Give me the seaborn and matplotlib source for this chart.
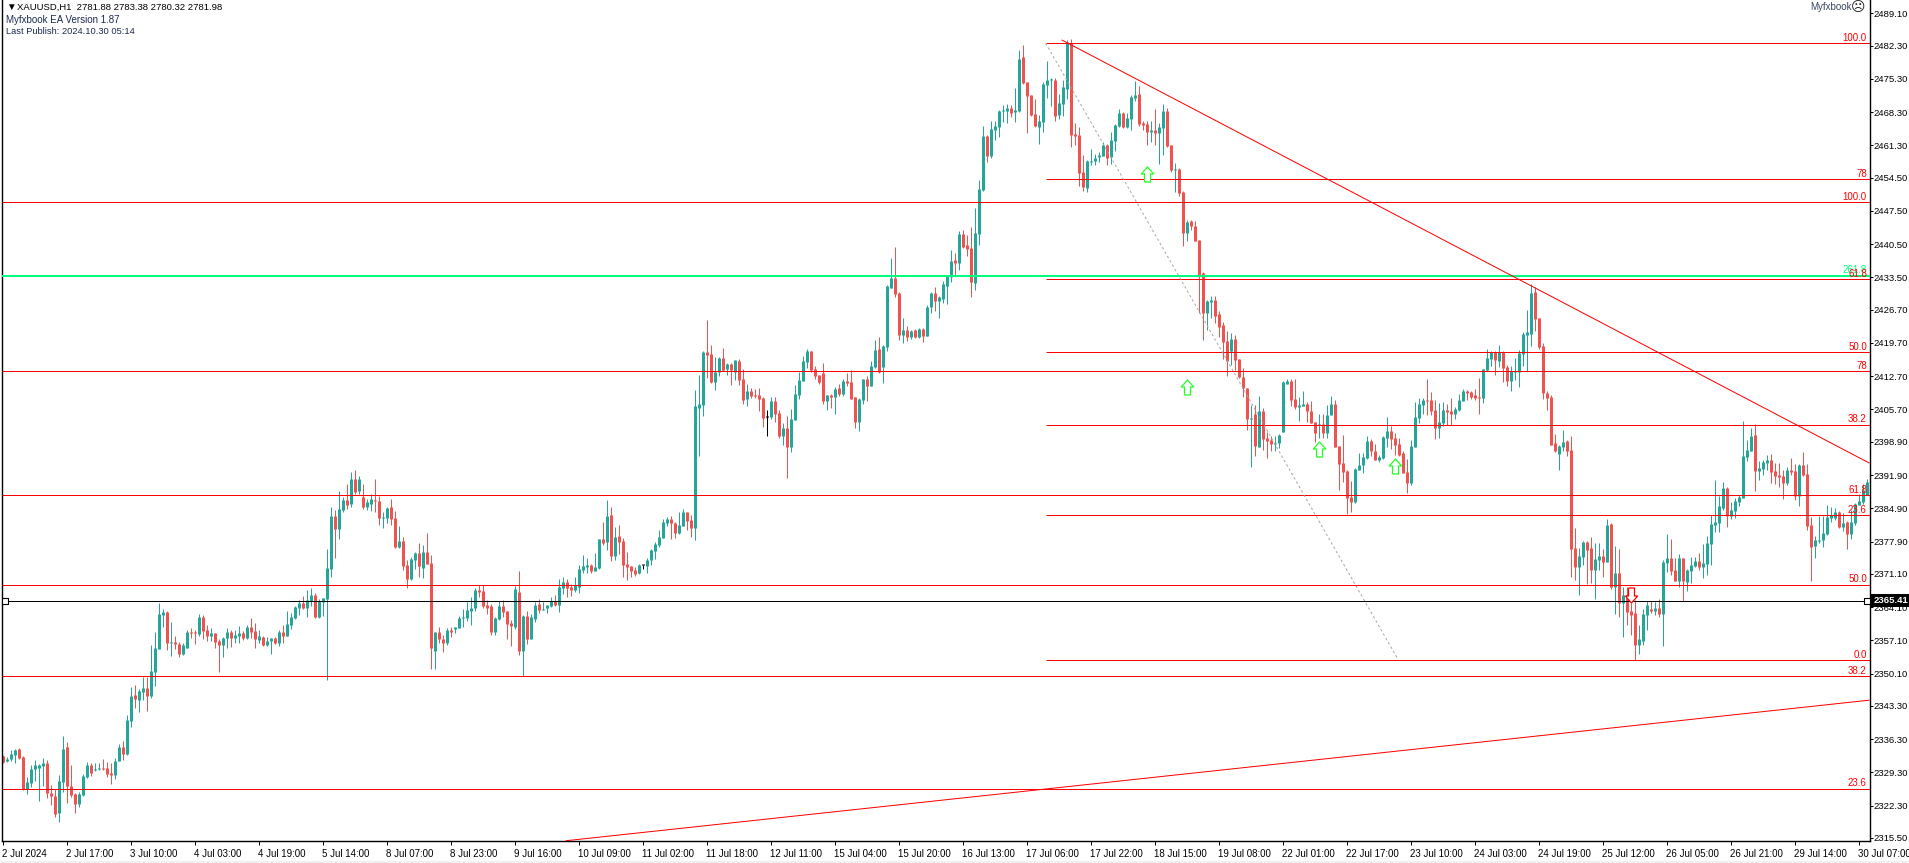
import matplotlib
matplotlib.use("Agg")
import matplotlib.pyplot as plt
from matplotlib.patches import Rectangle
import pandas as pd
import seaborn as sns

# XAUUSD H1 candles
opens = [
    2332.7, 2331.7, 2332.1, 2333.0, 2334.3, 2332.5, 2325.9, 2327.0, 2330.0, 2330.3,
    2330.6, 2331.2, 2324.9, 2324.4, 2320.8, 2327.3, 2334.6, 2326.5, 2324.7, 2322.6,
    2324.5, 2328.4, 2330.8, 2329.8, 2330.0, 2330.3, 2330.3, 2329.1, 2328.7, 2331.7,
    2334.6, 2333.1, 2340.2, 2345.6, 2344.5, 2346.2, 2347.0, 2345.4, 2350.5, 2355.3,
    2362.5, 2363.1, 2356.6, 2356.7, 2356.3, 2354.2, 2355.5, 2358.9, 2358.9, 2358.4,
    2362.0, 2359.3, 2358.0, 2358.6, 2356.9, 2356.1, 2357.6, 2358.9, 2357.6, 2358.0,
    2358.6, 2357.5, 2359.9, 2359.0, 2357.2, 2357.8, 2356.2, 2357.0, 2357.6, 2356.6,
    2358.9, 2358.1, 2360.4, 2361.7, 2364.0, 2364.9, 2363.8, 2365.4, 2366.6, 2362.1,
    2365.1, 2365.8, 2372.2, 2383.3, 2380.6, 2384.5, 2386.6, 2385.8, 2391.1, 2388.5,
    2387.2, 2385.1, 2385.9, 2386.6, 2386.4, 2382.9, 2382.8, 2385.1, 2382.8, 2376.7,
    2378.0, 2373.0, 2370.0, 2374.1, 2375.5, 2372.3, 2375.7, 2373.3, 2354.9, 2358.8,
    2357.3, 2356.6, 2359.3, 2359.5, 2359.7, 2361.8, 2361.8, 2363.3, 2364.0, 2367.7,
    2367.5, 2364.5, 2364.3, 2358.9, 2361.6, 2364.3, 2363.3, 2360.7, 2359.9, 2367.3,
    2354.9, 2362.2, 2357.4, 2361.6, 2364.7, 2363.5, 2363.9, 2364.3, 2365.3, 2364.5,
    2368.1, 2369.4, 2368.3, 2367.7, 2368.3, 2371.9, 2372.5, 2373.0, 2371.7, 2372.3,
    2378.4, 2377.8, 2383.5, 2374.8, 2379.1, 2378.0, 2373.2, 2372.7, 2371.9, 2371.3,
    2372.9, 2372.7, 2374.0, 2375.9, 2377.2, 2378.6, 2381.8, 2382.6, 2381.8, 2379.7,
    2381.2, 2384.1, 2382.4, 2380.7, 2406.0, 2406.6, 2417.8, 2417.4, 2411.5, 2413.6,
    2416.5, 2414.3, 2415.3, 2413.6, 2415.9, 2412.1, 2407.9, 2409.6, 2408.7, 2408.7,
    2408.1, 2404.2, 2404.1, 2407.5, 2404.9, 2400.1, 2401.8, 2397.8, 2403.5, 2408.7,
    2411.7, 2415.7, 2418.0, 2414.2, 2412.9, 2413.4, 2407.5, 2408.7, 2408.3, 2410.2,
    2408.9, 2411.7, 2411.5, 2408.3, 2403.0, 2407.7, 2412.1, 2410.6, 2414.6, 2418.4,
    2414.6, 2418.9, 2431.3, 2433.4, 2430.2, 2421.4, 2422.4, 2420.9, 2422.4, 2420.9,
    2422.6, 2421.2, 2427.3, 2430.2, 2428.5, 2428.9, 2431.7, 2433.6, 2437.2, 2436.5,
    2442.6, 2440.3, 2439.7, 2432.3, 2442.6, 2451.9, 2463.3, 2459.1, 2464.5, 2465.2,
    2468.5, 2468.5, 2469.2, 2468.3, 2468.5, 2479.9, 2474.6, 2471.9, 2467.9, 2465.2,
    2466.2, 2474.0, 2475.1, 2475.1, 2467.7, 2470.0, 2473.2, 2482.9, 2463.7, 2463.5,
    2455.7, 2452.3, 2457.8, 2458.0, 2458.8, 2459.1, 2461.4, 2458.8, 2462.2, 2465.4,
    2468.1, 2465.2, 2466.9, 2471.3, 2472.1, 2466.0, 2465.8, 2464.1, 2464.5, 2463.9,
    2465.0, 2468.5, 2461.4, 2456.1, 2456.3, 2451.5, 2442.8, 2445.4, 2444.3, 2441.4,
    2434.4, 2426.0, 2428.3, 2428.7, 2425.8, 2423.5, 2420.1, 2418.0, 2420.5, 2416.3,
    2412.5, 2410.2, 2403.7, 2404.7, 2397.8, 2405.4, 2399.7, 2399.2, 2398.4, 2398.6,
    2400.9, 2411.0, 2411.7, 2407.9, 2406.2, 2406.4, 2406.8, 2405.4, 2403.0, 2402.4,
    2402.6, 2400.7, 2404.5, 2406.8, 2398.0, 2394.4, 2392.7, 2387.2, 2386.2, 2392.9,
    2394.0, 2395.5, 2399.0, 2396.9, 2395.0, 2395.5, 2399.7, 2401.1, 2399.7, 2398.4,
    2396.5, 2392.5, 2390.2, 2397.8, 2403.9, 2406.6, 2407.7, 2407.7, 2405.6, 2401.8,
    2402.9, 2405.6, 2405.4, 2404.8, 2405.6, 2407.5, 2409.6, 2409.4, 2408.8, 2408.3,
    2408.1, 2414.0, 2416.3, 2417.8, 2415.9, 2417.8, 2414.7, 2411.7, 2413.6, 2413.6,
    2417.4, 2421.4, 2421.6, 2430.5, 2425.0, 2419.1, 2409.2, 2408.3, 2398.7, 2396.3,
    2397.8, 2399.1, 2397.2, 2376.5, 2372.5, 2374.6, 2377.8, 2376.5, 2371.9, 2374.0,
    2374.9, 2373.6, 2381.6, 2368.3, 2371.3, 2365.0, 2366.6, 2363.3, 2362.9, 2356.1,
    2357.0, 2362.4, 2363.7, 2363.3, 2363.9, 2362.6, 2373.4, 2374.4, 2371.9, 2369.6,
    2374.4, 2369.4, 2371.7, 2372.8, 2373.8, 2372.5, 2373.2, 2377.4, 2381.4, 2381.8,
    2385.0, 2389.2, 2383.3, 2384.3, 2386.2, 2387.1, 2395.7, 2397.0, 2400.3, 2392.8,
    2393.2, 2394.4, 2395.1, 2392.8, 2391.9, 2391.7, 2390.2, 2393.0, 2392.8, 2387.5,
    2394.0, 2392.1, 2381.4, 2377.0, 2378.0, 2378.2, 2379.5, 2382.9, 2382.9, 2384.1,
    2381.0, 2382.0, 2379.5, 2381.8, 2385.6, 2386.2, 2387.7,
]
highs = [
    2332.9, 2332.6, 2334.0, 2334.3, 2334.4, 2332.7, 2328.4, 2330.8, 2331.9, 2331.0,
    2332.4, 2331.9, 2326.6, 2325.7, 2328.7, 2336.9, 2335.7, 2330.8, 2325.0, 2325.2,
    2328.9, 2331.5, 2331.2, 2331.2, 2331.3, 2332.2, 2331.5, 2331.3, 2332.4, 2335.3,
    2335.8, 2341.4, 2347.3, 2347.7, 2346.8, 2349.4, 2349.4, 2356.1, 2358.9, 2364.9,
    2363.6, 2363.3, 2361.0, 2358.0, 2356.7, 2356.5, 2359.3, 2359.6, 2359.3, 2362.6,
    2362.4, 2360.3, 2359.6, 2358.7, 2357.4, 2357.9, 2359.7, 2359.3, 2359.3, 2360.1,
    2359.1, 2360.3, 2361.9, 2360.7, 2359.3, 2358.0, 2357.7, 2357.6, 2357.7, 2359.3,
    2360.3, 2363.3, 2362.8, 2364.3, 2365.6, 2366.4, 2367.7, 2368.2, 2367.0, 2365.7,
    2366.1, 2376.3, 2385.1, 2384.5, 2388.5, 2387.3, 2390.0, 2392.6, 2393.0, 2391.7,
    2390.1, 2386.9, 2387.9, 2391.1, 2387.5, 2384.2, 2385.2, 2386.9, 2384.4, 2381.2,
    2378.8, 2374.0, 2374.6, 2375.7, 2377.5, 2377.2, 2379.6, 2375.1, 2358.8, 2359.8,
    2358.2, 2359.6, 2360.0, 2360.0, 2362.3, 2363.6, 2365.2, 2366.3, 2368.2, 2368.7,
    2368.7, 2365.6, 2364.7, 2362.0, 2365.3, 2365.6, 2363.3, 2361.4, 2368.5, 2371.7,
    2362.4, 2363.3, 2362.6, 2365.2, 2365.7, 2365.2, 2364.6, 2366.2, 2366.6, 2370.0,
    2370.4, 2370.0, 2368.9, 2370.4, 2373.0, 2375.1, 2374.4, 2373.2, 2375.5, 2378.4,
    2382.0, 2386.6, 2385.2, 2381.0, 2381.4, 2378.6, 2375.7, 2372.7, 2372.5, 2373.1,
    2373.0, 2374.4, 2376.3, 2377.8, 2380.3, 2382.6, 2383.1, 2383.3, 2382.0, 2384.1,
    2384.7, 2384.1, 2383.5, 2409.8, 2413.0, 2418.1, 2424.5, 2419.3, 2416.7, 2416.7,
    2418.6, 2415.5, 2415.4, 2416.1, 2416.3, 2414.2, 2411.0, 2410.2, 2410.0, 2410.2,
    2408.3, 2405.6, 2408.3, 2408.3, 2405.6, 2402.8, 2404.3, 2405.8, 2410.8, 2413.6,
    2416.9, 2418.4, 2418.0, 2414.8, 2412.9, 2415.5, 2408.7, 2408.9, 2410.4, 2411.0,
    2412.1, 2413.4, 2414.0, 2408.3, 2408.1, 2412.1, 2412.7, 2415.9, 2420.3, 2420.9,
    2419.3, 2431.9, 2437.6, 2439.9, 2430.4, 2424.9, 2423.3, 2422.4, 2422.6, 2422.8,
    2422.8, 2427.7, 2430.4, 2431.5, 2429.6, 2432.7, 2433.8, 2439.3, 2438.6, 2443.3,
    2443.5, 2442.4, 2444.1, 2448.1, 2454.0, 2465.4, 2463.5, 2466.4, 2466.4, 2468.7,
    2469.8, 2470.0, 2469.8, 2473.4, 2481.4, 2482.4, 2474.6, 2471.9, 2471.1, 2467.7,
    2474.6, 2479.1, 2475.5, 2475.5, 2472.1, 2475.1, 2483.5, 2483.7, 2466.0, 2465.2,
    2459.3, 2458.2, 2460.5, 2459.5, 2459.9, 2462.0, 2461.6, 2464.1, 2465.8, 2469.0,
    2468.3, 2468.1, 2471.9, 2474.9, 2473.8, 2466.4, 2466.4, 2466.4, 2469.0, 2466.0,
    2470.0, 2469.2, 2461.4, 2457.6, 2456.5, 2451.7, 2445.6, 2445.6, 2445.4, 2441.4,
    2434.6, 2428.7, 2429.6, 2429.6, 2426.4, 2424.1, 2422.2, 2421.8, 2421.4, 2416.3,
    2414.4, 2410.2, 2406.6, 2406.6, 2408.5, 2406.0, 2400.9, 2400.1, 2400.1, 2400.5,
    2411.7, 2412.1, 2412.1, 2412.1, 2408.3, 2409.6, 2407.3, 2407.5, 2403.0, 2404.7,
    2404.7, 2406.6, 2408.5, 2407.7, 2398.0, 2400.3, 2392.9, 2390.6, 2393.4, 2396.5,
    2396.5, 2400.1, 2399.5, 2398.4, 2396.1, 2400.1, 2404.1, 2402.2, 2400.7, 2399.7,
    2396.9, 2395.2, 2399.2, 2407.3, 2408.1, 2408.1, 2412.1, 2409.4, 2407.7, 2407.0,
    2407.3, 2406.9, 2408.1, 2406.2, 2409.0, 2410.0, 2409.8, 2409.6, 2410.0, 2412.3,
    2414.3, 2418.5, 2418.0, 2418.0, 2419.3, 2418.0, 2415.1, 2414.9, 2416.5, 2418.2,
    2422.0, 2426.7, 2432.1, 2431.5, 2425.0, 2419.7, 2409.6, 2408.8, 2400.5, 2398.2,
    2401.4, 2399.3, 2400.1, 2380.8, 2376.5, 2378.0, 2378.0, 2378.9, 2377.6, 2377.6,
    2376.3, 2382.6, 2381.8, 2377.0, 2376.3, 2368.3, 2368.3, 2365.0, 2365.6, 2360.3,
    2363.7, 2365.4, 2365.4, 2365.2, 2365.8, 2374.0, 2379.5, 2378.4, 2374.4, 2375.3,
    2374.4, 2372.1, 2374.6, 2374.6, 2375.5, 2377.4, 2379.1, 2383.5, 2390.9, 2387.5,
    2390.4, 2389.4, 2386.2, 2387.1, 2387.7, 2403.3, 2399.3, 2401.8, 2402.7, 2394.9,
    2395.1, 2396.1, 2396.3, 2394.4, 2394.4, 2393.0, 2393.6, 2395.5, 2394.2, 2394.2,
    2396.8, 2394.2, 2383.1, 2379.1, 2383.3, 2383.3, 2385.6, 2385.2, 2385.0, 2384.3,
    2383.9, 2382.2, 2384.5, 2386.0, 2387.9, 2390.0, 2391.1,
]
lows = [
    2331.3, 2331.5, 2331.7, 2331.2, 2332.2, 2325.6, 2324.7, 2326.3, 2327.5, 2323.3,
    2326.4, 2324.0, 2322.4, 2319.8, 2318.9, 2325.2, 2322.8, 2324.2, 2320.8, 2322.1,
    2324.3, 2328.2, 2328.5, 2329.6, 2329.8, 2329.8, 2328.4, 2326.8, 2328.0, 2331.6,
    2331.9, 2332.9, 2338.9, 2342.8, 2342.1, 2344.5, 2342.2, 2344.9, 2347.5, 2355.2,
    2360.0, 2355.0, 2353.8, 2355.2, 2353.5, 2354.0, 2355.4, 2357.6, 2356.3, 2358.1,
    2357.4, 2357.0, 2357.0, 2355.4, 2350.5, 2353.6, 2355.4, 2355.6, 2356.5, 2356.5,
    2357.1, 2357.4, 2357.5, 2355.5, 2356.6, 2356.0, 2356.0, 2354.2, 2356.3, 2355.9,
    2356.5, 2358.0, 2359.4, 2361.5, 2362.4, 2363.6, 2362.0, 2364.3, 2361.7, 2361.9,
    2362.2, 2348.7, 2370.4, 2374.5, 2378.5, 2384.2, 2384.8, 2385.1, 2387.9, 2388.0,
    2384.7, 2384.5, 2384.4, 2384.2, 2381.4, 2380.7, 2381.9, 2381.4, 2376.5, 2376.5,
    2371.8, 2368.1, 2369.7, 2372.2, 2370.4, 2370.3, 2373.2, 2351.0, 2351.1, 2356.5,
    2354.7, 2356.1, 2357.9, 2358.6, 2359.6, 2360.0, 2361.2, 2360.3, 2363.3, 2366.3,
    2364.0, 2362.6, 2358.2, 2358.2, 2361.4, 2362.1, 2357.4, 2355.9, 2359.5, 2354.0,
    2349.6, 2356.3, 2357.3, 2360.9, 2362.9, 2363.5, 2362.8, 2364.2, 2364.3, 2363.1,
    2366.8, 2366.2, 2366.4, 2367.3, 2367.1, 2371.3, 2371.3, 2371.3, 2371.6, 2372.2,
    2377.2, 2376.1, 2373.8, 2374.0, 2375.3, 2370.4, 2369.8, 2370.4, 2370.6, 2371.1,
    2372.1, 2371.3, 2373.0, 2374.2, 2376.7, 2378.6, 2381.2, 2378.4, 2378.6, 2379.5,
    2381.1, 2380.3, 2378.8, 2378.2, 2395.8, 2404.3, 2412.3, 2411.3, 2409.8, 2412.7,
    2413.8, 2412.9, 2410.8, 2411.9, 2410.8, 2406.8, 2406.4, 2408.2, 2408.1, 2405.4,
    2402.0, 2400.1, 2403.7, 2403.0, 2399.7, 2398.2, 2391.2, 2396.7, 2403.5, 2407.9,
    2411.7, 2414.4, 2413.6, 2412.1, 2411.0, 2406.8, 2405.6, 2406.0, 2404.7, 2408.5,
    2408.5, 2410.6, 2407.9, 2401.8, 2401.1, 2406.8, 2407.5, 2410.6, 2414.4, 2413.4,
    2411.3, 2418.0, 2431.3, 2429.4, 2420.3, 2419.7, 2420.1, 2420.5, 2420.7, 2420.7,
    2419.9, 2421.2, 2426.0, 2426.4, 2424.9, 2428.1, 2427.9, 2432.5, 2434.0, 2435.0,
    2439.7, 2438.0, 2429.4, 2430.8, 2440.3, 2451.7, 2457.8, 2458.6, 2462.4, 2463.1,
    2466.2, 2466.0, 2467.3, 2466.2, 2468.3, 2474.2, 2463.9, 2467.5, 2465.2, 2461.6,
    2464.1, 2471.3, 2469.6, 2466.4, 2466.9, 2467.5, 2471.1, 2461.0, 2461.4, 2452.7,
    2451.7, 2451.5, 2457.2, 2457.2, 2457.8, 2459.0, 2457.2, 2457.4, 2460.1, 2465.2,
    2465.0, 2465.0, 2464.5, 2470.6, 2465.4, 2464.5, 2461.4, 2462.0, 2461.4, 2457.4,
    2459.3, 2461.0, 2455.7, 2451.5, 2450.6, 2440.1, 2441.2, 2443.5, 2441.2, 2426.0,
    2420.3, 2422.4, 2424.9, 2423.9, 2420.9, 2416.3, 2412.7, 2415.0, 2414.0, 2412.3,
    2408.3, 2401.4, 2393.6, 2395.9, 2397.8, 2397.1, 2395.5, 2396.9, 2396.9, 2397.6,
    2400.9, 2411.0, 2406.4, 2405.9, 2403.2, 2406.4, 2403.0, 2402.8, 2398.8, 2399.7,
    2399.7, 2399.7, 2404.5, 2397.8, 2388.7, 2390.4, 2383.7, 2384.1, 2386.0, 2392.9,
    2392.3, 2395.2, 2395.9, 2395.0, 2394.6, 2395.2, 2397.8, 2397.4, 2396.1, 2395.9,
    2392.3, 2388.1, 2389.8, 2397.8, 2402.8, 2404.7, 2404.5, 2404.5, 2399.5, 2399.6,
    2402.2, 2402.4, 2402.4, 2403.7, 2405.4, 2407.5, 2407.7, 2407.9, 2407.7, 2404.8,
    2407.1, 2413.8, 2414.9, 2413.0, 2414.7, 2411.5, 2410.7, 2409.6, 2411.9, 2410.4,
    2414.9, 2413.8, 2419.1, 2422.2, 2418.5, 2407.9, 2405.6, 2398.2, 2396.8, 2393.0,
    2397.0, 2395.9, 2370.4, 2369.8, 2366.6, 2373.0, 2369.0, 2369.2, 2365.8, 2371.9,
    2370.4, 2373.6, 2367.9, 2362.6, 2362.0, 2357.8, 2360.3, 2358.2, 2353.0, 2354.2,
    2356.1, 2359.3, 2362.8, 2362.4, 2362.1, 2355.8, 2371.5, 2370.9, 2369.6, 2368.3,
    2365.4, 2367.5, 2369.2, 2372.5, 2371.9, 2370.2, 2370.9, 2373.0, 2379.9, 2379.9,
    2384.5, 2381.0, 2382.7, 2382.9, 2385.4, 2387.1, 2394.9, 2397.0, 2388.5, 2390.9,
    2391.9, 2393.0, 2390.2, 2390.0, 2389.4, 2386.9, 2389.8, 2391.9, 2386.6, 2385.4,
    2391.7, 2380.3, 2369.6, 2374.4, 2377.5, 2376.8, 2379.3, 2382.0, 2382.4, 2380.8,
    2380.1, 2376.3, 2378.4, 2381.4, 2385.6, 2385.9, 2387.7,
]
closes = [
    2331.5, 2332.2, 2333.1, 2334.0, 2332.3, 2325.9, 2327.3, 2330.0, 2330.8, 2330.8,
    2331.2, 2324.9, 2324.4, 2320.5, 2327.5, 2334.3, 2326.5, 2324.6, 2322.6, 2324.7,
    2328.5, 2330.8, 2329.2, 2330.1, 2330.3, 2330.0, 2328.9, 2328.8, 2331.7, 2334.6,
    2333.1, 2340.3, 2345.4, 2344.7, 2346.5, 2347.0, 2345.4, 2350.6, 2355.5, 2362.6,
    2363.1, 2356.6, 2356.8, 2356.3, 2354.2, 2356.1, 2358.9, 2358.6, 2358.6, 2362.0,
    2359.1, 2358.0, 2358.6, 2356.7, 2356.1, 2357.6, 2358.8, 2357.6, 2358.2, 2358.6,
    2357.6, 2359.9, 2358.9, 2357.4, 2358.0, 2356.2, 2356.9, 2357.5, 2356.5, 2358.9,
    2358.1, 2360.5, 2362.0, 2364.1, 2365.0, 2363.8, 2365.6, 2366.6, 2362.1, 2365.4,
    2366.0, 2372.3, 2383.3, 2380.5, 2384.7, 2386.6, 2385.5, 2391.1, 2388.4, 2391.1,
    2385.2, 2386.3, 2386.9, 2386.5, 2382.9, 2383.1, 2385.0, 2382.7, 2376.7, 2378.0,
    2372.8, 2370.0, 2374.3, 2375.5, 2372.7, 2375.7, 2373.2, 2355.5, 2358.8, 2357.3,
    2356.5, 2359.3, 2358.9, 2359.8, 2361.8, 2362.0, 2363.5, 2364.0, 2367.7, 2367.3,
    2364.3, 2363.9, 2358.9, 2361.8, 2364.3, 2363.1, 2360.6, 2360.1, 2367.9, 2354.9,
    2362.2, 2357.4, 2362.0, 2364.5, 2363.5, 2363.7, 2364.5, 2365.3, 2364.5, 2368.3,
    2369.4, 2368.1, 2367.7, 2368.7, 2372.1, 2372.7, 2373.0, 2371.6, 2372.5, 2378.4,
    2377.6, 2383.3, 2374.8, 2378.8, 2377.8, 2373.0, 2372.5, 2371.7, 2371.1, 2373.0,
    2372.9, 2374.1, 2376.1, 2377.4, 2378.8, 2382.0, 2382.6, 2381.8, 2379.7, 2381.4,
    2384.1, 2382.2, 2380.7, 2406.4, 2406.9, 2417.9, 2417.1, 2411.5, 2413.6, 2416.5,
    2414.0, 2415.3, 2414.0, 2416.1, 2411.9, 2407.7, 2409.6, 2408.5, 2408.5, 2407.9,
    2404.0, 2404.2, 2407.5, 2404.7, 2400.1, 2401.8, 2397.8, 2403.7, 2408.9, 2411.9,
    2415.9, 2418.0, 2414.0, 2412.7, 2411.5, 2407.5, 2408.7, 2408.3, 2410.0, 2408.9,
    2411.7, 2411.3, 2407.9, 2403.0, 2407.9, 2412.1, 2410.6, 2414.8, 2418.2, 2413.6,
    2419.0, 2431.7, 2433.4, 2430.0, 2421.4, 2422.4, 2420.9, 2422.2, 2420.9, 2422.6,
    2421.2, 2427.3, 2430.2, 2428.5, 2429.4, 2432.1, 2433.8, 2436.9, 2436.5, 2442.6,
    2439.9, 2439.5, 2432.5, 2442.8, 2452.1, 2463.3, 2459.1, 2464.7, 2465.4, 2468.5,
    2468.7, 2469.2, 2468.1, 2468.7, 2479.5, 2474.4, 2471.7, 2467.7, 2465.4, 2466.4,
    2474.2, 2475.1, 2475.3, 2467.5, 2470.2, 2473.6, 2483.1, 2463.5, 2463.3, 2455.5,
    2452.5, 2458.0, 2458.0, 2458.6, 2459.3, 2461.4, 2458.6, 2462.4, 2465.6, 2468.1,
    2465.2, 2467.1, 2471.5, 2471.9, 2465.8, 2465.6, 2464.1, 2464.5, 2463.9, 2465.2,
    2468.5, 2461.2, 2456.1, 2456.3, 2451.3, 2442.8, 2445.2, 2444.3, 2441.2, 2434.0,
    2426.0, 2428.5, 2428.7, 2425.4, 2423.0, 2419.9, 2415.9, 2420.5, 2416.1, 2412.5,
    2410.2, 2403.7, 2403.9, 2398.0, 2405.4, 2399.5, 2399.0, 2398.4, 2398.6, 2400.3,
    2411.5, 2411.7, 2407.7, 2406.2, 2406.6, 2406.8, 2405.4, 2402.8, 2400.7, 2402.6,
    2400.7, 2404.5, 2406.8, 2397.8, 2394.2, 2392.5, 2387.0, 2386.2, 2393.1, 2394.0,
    2395.7, 2399.0, 2396.9, 2395.0, 2395.7, 2399.9, 2401.1, 2399.5, 2398.2, 2396.1,
    2392.3, 2390.2, 2398.0, 2404.1, 2406.8, 2407.7, 2407.5, 2405.4, 2401.8, 2403.1,
    2405.6, 2405.2, 2404.8, 2405.8, 2407.7, 2409.6, 2409.2, 2408.3, 2408.1, 2408.1,
    2414.2, 2416.6, 2417.8, 2416.1, 2417.8, 2414.4, 2411.7, 2413.8, 2413.8, 2417.6,
    2421.6, 2422.0, 2430.2, 2424.8, 2418.9, 2409.2, 2408.1, 2398.2, 2397.0, 2398.0,
    2398.9, 2397.0, 2376.3, 2372.5, 2374.9, 2377.8, 2376.1, 2371.9, 2374.2, 2374.9,
    2373.6, 2381.4, 2368.3, 2371.3, 2365.0, 2366.6, 2363.1, 2362.4, 2356.1, 2357.4,
    2362.6, 2364.5, 2363.3, 2363.9, 2362.6, 2373.6, 2374.4, 2371.7, 2369.6, 2374.4,
    2369.6, 2371.9, 2373.0, 2373.8, 2372.6, 2373.4, 2377.6, 2381.6, 2382.0, 2385.4,
    2389.2, 2383.3, 2384.5, 2386.4, 2387.3, 2395.9, 2397.2, 2400.1, 2392.8, 2393.4,
    2394.7, 2395.1, 2392.5, 2391.7, 2391.5, 2390.2, 2393.0, 2392.5, 2387.5, 2394.0,
    2391.9, 2381.2, 2376.8, 2378.2, 2378.2, 2379.7, 2383.1, 2383.5, 2384.1, 2381.0,
    2381.8, 2379.5, 2382.0, 2385.8, 2386.4, 2388.8, 2390.4,
]

tick_bars = list(range(0, 467, 16))
time_labels = [
    "2 Jul 2024", "2 Jul 17:00", "3 Jul 10:00", "4 Jul 03:00", "4 Jul 19:00",
    "5 Jul 14:00", "8 Jul 07:00", "8 Jul 23:00", "9 Jul 16:00", "10 Jul 09:00",
    "11 Jul 02:00", "11 Jul 18:00", "12 Jul 11:00", "15 Jul 04:00", "15 Jul 20:00",
    "16 Jul 13:00", "17 Jul 06:00", "17 Jul 22:00", "18 Jul 15:00", "19 Jul 08:00",
    "22 Jul 01:00", "22 Jul 17:00", "23 Jul 10:00", "24 Jul 03:00", "24 Jul 19:00",
    "25 Jul 12:00", "26 Jul 05:00", "26 Jul 21:00", "29 Jul 14:00", "30 Jul 07:00",
]
price_ticks = [
    2489.10, 2482.30, 2475.30, 2468.30, 2461.30, 2454.50, 2447.50, 2440.50, 2433.50,
    2426.70, 2419.70, 2412.70, 2405.70, 2398.90, 2391.90, 2384.90, 2377.90, 2371.10,
    2364.10, 2357.10, 2350.10, 2343.30, 2336.30, 2329.30, 2322.30, 2315.50,
]

# full width levels
level_prices = [2449.3, 2413.7, 2387.6, 2368.7, 2349.5, 2325.9]
level_labels = ["100.0", "78", "61.8", "50.0", "38.2", "23.6"]
green_level = 2433.8
last_price = 2365.41

# fibo drawn from the top of 17 Jul
fib_start = 260.8
fib_prices = [2482.8, 2454.15, 2433.1, 2417.75, 2402.4, 2383.4, 2352.9]
fib_labels = ["100.0", "78", "61.8", "50.0", "38.2", "23.6", "0.0"]

down_line_bars = [264.8, 466.75]
down_line_prices = [2483.5, 2394.4]
up_line_bars = [140.8, 466.75]
up_line_prices = [2314.9, 2344.5]
dotted_bars = [260.8, 348.8]
dotted_prices = [2482.8, 2353.2]

up_arrow_bars = [286, 296, 329, 348]
up_arrow_prices = [2455.2, 2410.5, 2397.4, 2393.9]
down_arrow_bars = [407]
down_arrow_prices = [2366.7]

TEAL = "#26a69a"
RED = "#ef5350"
LINE_RED = "#ff0000"
GREEN = "#00ff7f"
PX = 0.72  # one pixel in points at dpi 100

sns.set_style("white")
plt.rcParams["font.family"] = ["Liberation Sans", "DejaVu Sans"]
plt.rcParams["lines.solid_capstyle"] = "butt"
plt.rcParams["axes.linewidth"] = 1.4 * PX
plt.rcParams["axes.edgecolor"] = "black"

df = pd.DataFrame({"bar": range(len(opens)), "open": opens, "high": highs,
                   "low": lows, "close": closes})
df["dir"] = "flat"
df.loc[df["close"] > df["open"], "dir"] = "up"
df.loc[df["close"] < df["open"], "dir"] = "down"
palette = {"up": TEAL, "down": RED, "flat": "black"}

wicks = df.melt(id_vars=["bar", "dir"], value_vars=["high", "low"], value_name="price")
df["body_low"] = df[["open", "close"]].min(axis=1)
# a body is never thinner than one pixel
df["body_high"] = df[["open", "close"]].max(axis=1).clip(lower=df["body_low"] + 0.21)
bodies = df.melt(id_vars=["bar", "dir"], value_vars=["body_low", "body_high"], value_name="price")

fig = plt.figure(figsize=(19.09, 8.63), dpi=100, facecolor="white")
ax = fig.add_axes([1.5 / 1909, 22 / 863, 1868 / 1909, 841 / 863])
ax.set_facecolor("white")
fig.add_artist(Rectangle((0, 0), 1, 2 / 863, transform=fig.transFigure, color="#f0f0f0"))

sns.lineplot(data=wicks, x="bar", y="price", units="bar", hue="dir", palette=palette,
             estimator=None, sort=False, linewidth=PX, legend=False, ax=ax, zorder=2)
sns.lineplot(data=bodies, x="bar", y="price", units="bar", hue="dir", palette=palette,
             estimator=None, sort=False, linewidth=3 * PX, legend=False, ax=ax, zorder=2)

# levels and trend lines
x_right = 466.75
ax.hlines(level_prices, -0.25, x_right, color=LINE_RED, lw=1.0 * PX, zorder=3)
ax.hlines(fib_prices, fib_start, x_right, color=LINE_RED, lw=1.0 * PX, zorder=3)
ax.hlines(green_level, -0.25, x_right, color=GREEN, lw=2 * PX, zorder=3)
ax.hlines(last_price, -0.25, x_right, color="black", lw=1.0 * PX, zorder=4)
sns.lineplot(x=down_line_bars, y=down_line_prices, color=LINE_RED, lw=PX, ax=ax, zorder=3)
sns.lineplot(x=up_line_bars, y=up_line_prices, color=LINE_RED, lw=PX, ax=ax, zorder=3)
ax.plot(dotted_bars, dotted_prices, color="#a8a8a8", lw=PX, ls=(0, (2.5, 2.5)), zorder=3)

# signal arrows
up_arrow = [(-0.4, -1), (0.4, -1), (0.4, 0.07), (0.82, 0.07), (0, 1), (-0.82, 0.07),
            (-0.4, 0.07), (-0.4, -1)]
down_arrow = [(x, -y) for x, y in up_arrow]
sns.scatterplot(x=up_arrow_bars, y=up_arrow_prices, marker=up_arrow, s=117, color="white",
                edgecolor="#22ff22", linewidth=0.9, ax=ax, zorder=5)
sns.scatterplot(x=down_arrow_bars, y=down_arrow_prices, marker=down_arrow, s=117, color="white",
                edgecolor=LINE_RED, linewidth=0.9, ax=ax, zorder=5)

# little handles at both ends of the last price line
sns.scatterplot(x=[0.55, 466.0], y=[last_price, last_price], marker="s", s=14, color="white",
                edgecolor="black", linewidth=0.8, ax=ax, zorder=6)

ax.set_xlim(-0.25, x_right)
ax.set_ylim(2314.85, 2491.9)
ax.set_xlabel("")
ax.set_ylabel("")
sns.despine(ax=ax, top=True, right=False, left=False, bottom=False)

FS = 6.8
ax.yaxis.tick_right()
ax.set_xticks(tick_bars, labels=time_labels, ha="left", fontsize=7.0)
ax.set_yticks(price_ticks, labels=[f"{p:.2f}" for p in price_ticks], fontsize=FS)
ax.tick_params(axis="x", length=3, width=PX, pad=2.5, bottom=True, color="black", labelcolor="black")
ax.tick_params(axis="y", length=2, width=PX, pad=1.2, right=True, left=False, color="black", labelcolor="black")

# level captions sit right above their lines
for price, text in zip(level_prices, level_labels):
    ax.text(466.1, price + 0.15, text, ha="right", va="bottom", color=LINE_RED, fontsize=7.0, zorder=7)
for price, text in zip(fib_prices, fib_labels):
    ax.text(466.1, price + 0.15, text, ha="right", va="bottom", color=LINE_RED, fontsize=7.0, zorder=7)
ax.text(466.1, green_level + 0.3, "261.8", ha="right", va="bottom", color=GREEN, fontsize=7.0, zorder=6)

ax.text(1.002, last_price, f"{last_price:.2f}", transform=ax.get_yaxis_transform(), ha="left",
        va="center", color="white", fontsize=FS, fontweight="bold", zorder=8, clip_on=False,
        bbox=dict(boxstyle="square,pad=0.2", fc="black", ec="black", lw=0))

# header texts, placed in figure pixels
def px_text(x, y, text, size=7.0, **kw):
    fig.text(x / 1909, 1 - y / 863, text, va="center", fontsize=size, **kw)

px_text(6, 7, "\u25bc", color="black")
px_text(17, 7, "XAUUSD,H1  2781.88 2783.38 2780.32 2781.98", size=6.8, color="black")
px_text(6, 20, "Myfxbook EA Version 1.87", size=7.0, color="#1c2a55")
px_text(6, 32, "Last Publish: 2024.10.30 05:14", size=6.7, color="#1c2a55")
px_text(1810, 7, "Myfxbook", color="#3a4560")
fig.text(1858 / 1909, 1 - 7.5 / 863, "\u2639", va="center", ha="center", fontsize=10, color="#222222",
         family="DejaVu Sans")

fig.savefig("out.png", dpi=100)
